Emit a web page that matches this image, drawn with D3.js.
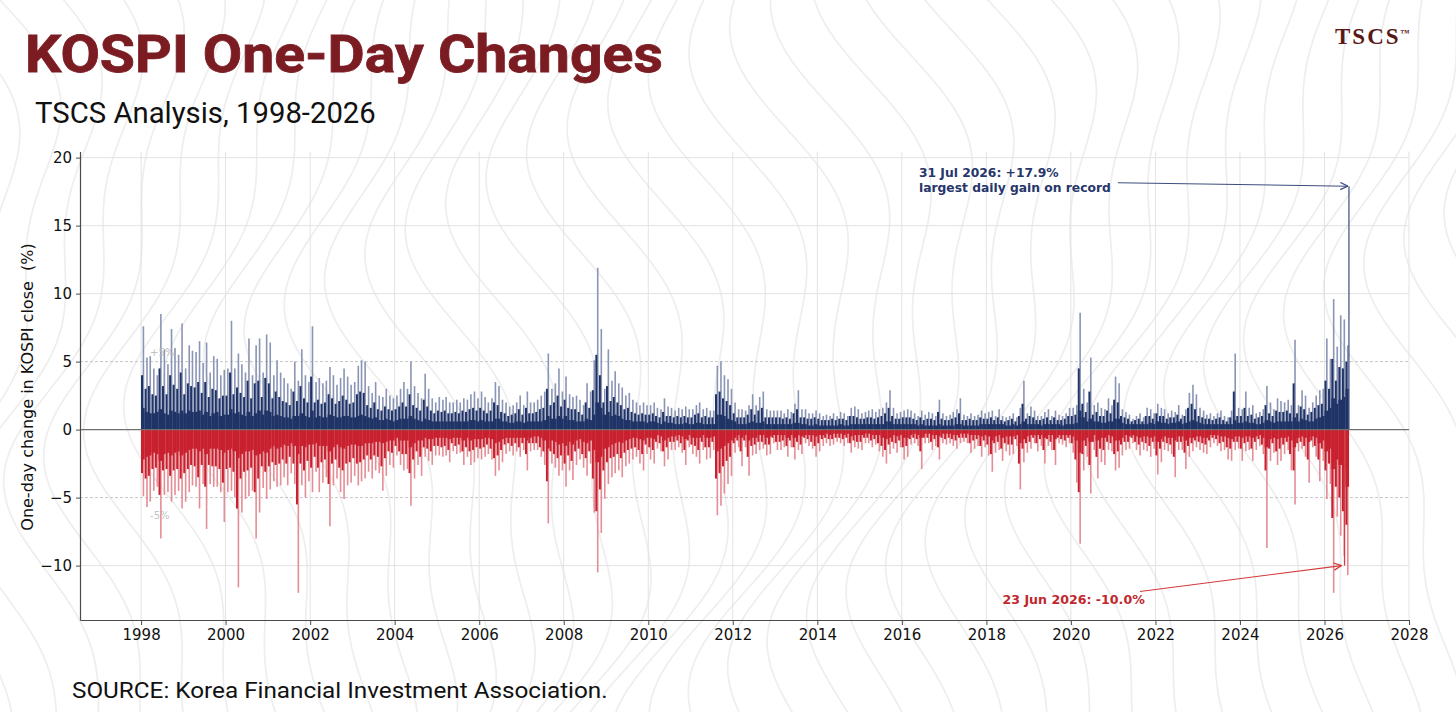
<!DOCTYPE html>
<html>
<head>
<meta charset="utf-8">
<script src="https://cdn.jsdelivr.net/npm/d3@7"></script>
<style>
  body { margin: 0; background: #fff; }
  svg { display: block; }
</style>
</head>
<body>
<div id="chart"></div>
<script>
// Monthly readings of the daily bars, Jan 1998 .. Jul 2026, one row per year (%)
// max  = tallest bar of the month, mid = typical tall bar, body = height of the dense mass
const startYear = 1998;
const upMax = [
  7.6, 5.3, 5.4, 4.5, 4.0, 8.5, 5.9, 4.8, 7.4, 6.0, 5.5, 7.8,
  4.5, 6.2, 5.8, 5.7, 6.5, 4.9, 6.4, 4.2, 5.4, 5.2, 4.0, 4.4,
  4.5, 8.0, 4.5, 5.6, 4.8, 4.2, 6.7, 4.0, 6.2, 6.7, 4.2, 7.0,
  6.4, 4.0, 5.1, 4.2, 3.8, 3.4, 3.0, 5.0, 3.6, 5.9, 4.0, 3.5,
  7.6, 3.5, 3.8, 3.4, 3.6, 4.6, 4.0, 3.3, 3.8, 4.5, 3.9, 3.3,
  3.5, 4.7, 5.1, 5.0, 3.2, 2.7, 3.5, 2.5, 2.4, 3.0, 2.5, 2.3,
  2.5, 3.0, 3.5, 3.0, 5.0, 3.2, 2.7, 2.3, 4.1, 3.0, 2.3, 2.0,
  2.4, 2.2, 2.4, 2.0, 2.0, 2.2, 2.0, 2.3, 2.2, 2.6, 2.8, 2.3,
  2.8, 2.4, 2.0, 2.3, 3.5, 3.2, 2.2, 2.0, 1.7, 1.8, 2.0, 2.5,
  1.8, 2.8, 2.0, 2.0, 2.2, 2.5, 2.8, 5.6, 3.0, 3.4, 4.5, 2.8,
  3.9, 2.6, 2.4, 2.5, 2.2, 1.8, 3.4, 2.8, 5.1, 11.9, 7.4, 3.0,
  5.9, 3.6, 4.3, 3.4, 3.1, 2.5, 2.7, 2.2, 2.0, 1.8, 2.0, 1.8,
  1.8, 2.0, 1.6, 1.5, 2.3, 1.7, 1.6, 1.4, 1.6, 1.5, 1.7, 1.5,
  1.5, 1.8, 2.0, 1.5, 1.6, 1.4, 1.4, 4.7, 5.0, 4.0, 3.7, 3.0,
  2.0, 1.5, 1.5, 1.4, 1.8, 2.6, 1.8, 2.4, 2.8, 1.5, 1.4, 1.4,
  1.4, 1.4, 1.2, 1.5, 1.3, 1.9, 2.9, 1.5, 1.5, 1.2, 1.2, 1.4,
  1.2, 1.0, 1.1, 1.0, 1.2, 1.0, 1.3, 1.2, 1.0, 1.6, 1.7, 1.5,
  1.2, 1.3, 1.4, 1.5, 1.3, 1.5, 1.6, 2.0, 2.9, 1.6, 1.2, 1.3,
  1.4, 1.5, 1.4, 1.2, 1.0, 1.4, 1.1, 1.3, 1.2, 1.0, 2.2, 1.2,
  1.0, 1.1, 1.3, 1.5, 2.3, 1.1, 1.0, 1.2, 1.0, 1.1, 1.4, 1.2,
  1.3, 1.4, 1.0, 1.5, 1.0, 0.9, 1.0, 1.2, 0.9, 1.6, 3.6, 1.2,
  1.7, 1.4, 1.0, 1.0, 1.3, 1.5, 1.0, 1.4, 1.1, 1.0, 1.2, 1.6,
  1.6, 1.8, 8.6, 3.0, 2.0, 5.3, 1.8, 2.0, 1.6, 1.5, 2.3, 1.8,
  3.9, 3.4, 1.5, 1.3, 1.1, 0.8, 1.0, 1.2, 0.9, 1.6, 1.5, 1.2,
  1.9, 1.6, 1.5, 1.2, 1.4, 1.3, 1.8, 1.1, 1.5, 2.7, 3.3, 2.6,
  1.6, 1.4, 1.1, 1.2, 1.0, 1.2, 1.4, 1.0, 0.9, 1.4, 5.6, 1.6,
  1.5, 2.8, 1.6, 1.8, 1.2, 1.3, 1.5, 3.2, 2.0, 1.5, 2.3, 2.1,
  2.0, 2.2, 1.8, 6.6, 1.8, 2.9, 2.5, 1.6, 2.0, 2.5, 2.9, 3.0,
  6.7, 5.2, 9.6, 6.1, 8.4, 8.1, 6.2
];
const upMid = [
  4.0, 3.0, 3.2, 2.6, 2.5, 4.5, 3.2, 2.6, 4.0, 3.3, 3.0, 4.2,
  2.6, 3.4, 3.2, 3.1, 3.5, 2.7, 3.5, 2.4, 3.0, 2.9, 2.3, 2.5,
  2.5, 4.2, 2.6, 3.1, 2.7, 2.4, 3.6, 2.3, 3.4, 3.6, 2.4, 3.8,
  3.4, 2.3, 2.8, 2.4, 2.1, 2.0, 1.8, 2.8, 2.1, 3.2, 2.3, 2.0,
  3.9, 2.0, 2.2, 1.9, 2.0, 2.6, 2.3, 1.9, 2.1, 2.5, 2.2, 1.9,
  2.0, 2.6, 2.8, 2.7, 1.8, 1.6, 2.0, 1.5, 1.4, 1.7, 1.5, 1.4,
  1.5, 1.7, 2.0, 1.7, 2.6, 1.8, 1.6, 1.4, 2.2, 1.7, 1.4, 1.2,
  1.4, 1.3, 1.4, 1.2, 1.2, 1.3, 1.2, 1.4, 1.3, 1.5, 1.6, 1.4,
  1.6, 1.4, 1.2, 1.4, 2.0, 1.8, 1.3, 1.2, 1.0, 1.1, 1.2, 1.5,
  1.1, 1.6, 1.2, 1.2, 1.3, 1.5, 1.6, 3.0, 1.8, 2.0, 2.5, 1.7,
  2.2, 1.6, 1.5, 1.5, 1.3, 1.1, 2.0, 1.6, 2.9, 5.5, 4.0, 2.0,
  3.2, 2.1, 2.4, 2.0, 1.8, 1.5, 1.6, 1.3, 1.2, 1.1, 1.2, 1.1,
  1.1, 1.2, 1.0, 0.9, 1.3, 1.0, 1.0, 0.9, 1.0, 0.9, 1.0, 0.9,
  0.9, 1.1, 1.2, 0.9, 1.0, 0.9, 0.9, 2.6, 2.8, 2.3, 2.1, 1.8,
  1.2, 0.9, 0.9, 0.9, 1.1, 1.5, 1.1, 1.4, 1.6, 0.9, 0.9, 0.9,
  0.9, 0.9, 0.8, 0.9, 0.8, 1.2, 1.5, 0.9, 0.9, 0.8, 0.8, 0.9,
  0.8, 0.7, 0.7, 0.7, 0.8, 0.7, 0.8, 0.8, 0.7, 1.0, 1.0, 0.9,
  0.8, 0.8, 0.9, 0.9, 0.8, 0.9, 1.0, 1.2, 1.6, 1.0, 0.8, 0.8,
  0.9, 0.9, 0.9, 0.8, 0.7, 0.9, 0.7, 0.8, 0.8, 0.7, 1.3, 0.8,
  0.7, 0.7, 0.8, 0.9, 1.2, 0.7, 0.7, 0.8, 0.7, 0.7, 0.9, 0.8,
  0.8, 0.9, 0.7, 0.9, 0.7, 0.6, 0.7, 0.8, 0.6, 1.0, 1.9, 0.8,
  1.0, 0.9, 0.7, 0.7, 0.8, 0.9, 0.7, 0.9, 0.7, 0.7, 0.8, 1.0,
  1.0, 1.1, 4.5, 1.9, 1.3, 2.8, 1.1, 1.3, 1.0, 1.0, 1.4, 1.2,
  2.2, 2.0, 1.0, 0.9, 0.8, 0.6, 0.7, 0.8, 0.6, 1.0, 1.0, 0.8,
  1.2, 1.0, 1.0, 0.8, 0.9, 0.9, 1.1, 0.8, 1.0, 1.6, 1.9, 1.5,
  1.0, 0.9, 0.8, 0.8, 0.7, 0.8, 0.9, 0.7, 0.6, 0.9, 2.8, 1.0,
  1.0, 1.6, 1.0, 1.1, 0.8, 0.9, 1.0, 1.8, 1.2, 1.0, 1.4, 1.3,
  1.3, 1.4, 1.2, 3.4, 1.2, 1.7, 1.5, 1.1, 1.3, 1.6, 1.8, 1.9,
  3.6, 3.0, 5.2, 3.6, 4.6, 4.5, 5.0
];
const upBody = [
  1.6, 1.3, 1.2, 1.2, 1.3, 1.5, 1.2, 1.1, 1.4, 1.3, 1.2, 1.4,
  1.2, 1.4, 1.3, 1.3, 1.4, 1.1, 1.3, 1.0, 1.2, 1.3, 1.0, 1.1,
  1.1, 1.5, 1.2, 1.3, 1.1, 1.0, 1.3, 1.0, 1.2, 1.4, 1.1, 1.4,
  1.3, 1.0, 1.1, 1.0, 0.9, 0.9, 0.8, 1.0, 1.0, 1.2, 1.0, 0.9,
  1.4, 0.9, 1.0, 0.9, 0.9, 1.1, 1.0, 0.9, 0.9, 1.0, 1.0, 0.9,
  0.9, 1.0, 1.1, 1.0, 0.9, 0.8, 0.9, 0.7, 0.7, 0.8, 0.7, 0.6,
  0.7, 0.8, 0.8, 0.8, 1.0, 0.8, 0.7, 0.6, 0.8, 0.7, 0.6, 0.6,
  0.6, 0.6, 0.6, 0.6, 0.6, 0.6, 0.6, 0.6, 0.6, 0.7, 0.7, 0.6,
  0.7, 0.6, 0.6, 0.6, 0.8, 0.8, 0.6, 0.6, 0.5, 0.5, 0.6, 0.6,
  0.5, 0.6, 0.6, 0.6, 0.6, 0.6, 0.7, 1.0, 0.8, 0.8, 1.0, 0.8,
  1.0, 0.7, 0.7, 0.6, 0.6, 0.6, 0.8, 0.7, 1.1, 2.0, 1.6, 1.1,
  1.3, 1.0, 1.1, 1.0, 0.8, 0.7, 0.7, 0.6, 0.6, 0.6, 0.6, 0.5,
  0.6, 0.6, 0.5, 0.4, 0.6, 0.5, 0.5, 0.4, 0.4, 0.4, 0.5, 0.4,
  0.4, 0.5, 0.5, 0.4, 0.4, 0.4, 0.4, 1.1, 1.1, 1.0, 0.8, 0.7,
  0.6, 0.4, 0.4, 0.4, 0.5, 0.6, 0.5, 0.5, 0.6, 0.4, 0.4, 0.4,
  0.4, 0.4, 0.4, 0.4, 0.4, 0.5, 0.5, 0.4, 0.4, 0.3, 0.3, 0.4,
  0.3, 0.3, 0.3, 0.3, 0.3, 0.3, 0.4, 0.3, 0.3, 0.4, 0.4, 0.4,
  0.4, 0.4, 0.4, 0.4, 0.4, 0.4, 0.4, 0.6, 0.6, 0.4, 0.4, 0.4,
  0.4, 0.4, 0.4, 0.4, 0.3, 0.4, 0.3, 0.3, 0.3, 0.3, 0.4, 0.3,
  0.3, 0.3, 0.3, 0.4, 0.4, 0.3, 0.3, 0.3, 0.3, 0.3, 0.4, 0.4,
  0.4, 0.4, 0.4, 0.4, 0.4, 0.3, 0.3, 0.4, 0.3, 0.4, 0.6, 0.4,
  0.4, 0.4, 0.4, 0.3, 0.4, 0.4, 0.4, 0.4, 0.4, 0.3, 0.4, 0.4,
  0.4, 0.5, 1.4, 0.9, 0.6, 0.8, 0.6, 0.6, 0.5, 0.5, 0.6, 0.6,
  0.8, 0.8, 0.5, 0.4, 0.4, 0.4, 0.4, 0.4, 0.4, 0.4, 0.5, 0.4,
  0.6, 0.5, 0.5, 0.4, 0.5, 0.5, 0.6, 0.4, 0.5, 0.6, 0.7, 0.6,
  0.5, 0.4, 0.4, 0.4, 0.4, 0.4, 0.4, 0.4, 0.4, 0.4, 0.7, 0.5,
  0.5, 0.6, 0.5, 0.5, 0.4, 0.4, 0.5, 0.7, 0.6, 0.5, 0.6, 0.6,
  0.6, 0.6, 0.6, 0.9, 0.6, 0.8, 0.7, 0.6, 0.6, 0.8, 0.9, 1.0,
  1.4, 1.6, 2.3, 1.9, 2.2, 2.4, 3.0
];
const downMax = [
  -4.9, -5.7, -5.3, -4.5, -4.2, -8.0, -4.8, -4.6, -5.3, -4.8, -4.5, -5.8,
  -5.3, -4.6, -4.1, -4.2, -5.8, -4.0, -7.3, -4.0, -4.2, -4.2, -4.6, -6.8,
  -4.6, -4.5, -5.0, -11.6, -6.1, -5.1, -4.9, -4.5, -8.0, -6.1, -4.3, -5.1,
  -4.4, -3.8, -4.2, -4.1, -3.5, -4.1, -3.2, -4.0, -12.0, -4.1, -5.0, -3.8,
  -4.6, -3.1, -4.6, -3.9, -3.5, -7.1, -4.1, -3.6, -4.6, -5.1, -4.1, -3.9,
  -3.4, -4.1, -3.8, -3.6, -3.1, -3.6, -3.0, -3.2, -4.5, -3.4, -2.6, -2.8,
  -1.9, -2.6, -3.0, -2.9, -5.6, -3.6, -2.6, -3.4, -2.0, -2.3, -2.6, -1.9,
  -1.9, -2.0, -1.9, -2.4, -1.6, -1.8, -1.7, -2.6, -2.0, -2.6, -2.4, -2.1,
  -2.2, -2.0, -1.8, -2.2, -3.4, -3.0, -2.4, -1.8, -1.6, -1.9, -1.6, -2.0,
  -1.5, -3.0, -1.6, -1.5, -1.5, -2.0, -2.6, -6.9, -2.5, -2.8, -3.4, -3.0,
  -4.2, -3.0, -3.7, -2.6, -2.2, -2.8, -3.4, -2.5, -6.1, -10.5, -7.6, -5.1,
  -4.0, -3.5, -3.2, -3.0, -3.5, -2.7, -2.5, -2.2, -2.0, -2.5, -3.0, -1.8,
  -2.2, -2.5, -1.4, -1.6, -2.7, -2.2, -1.5, -1.5, -1.3, -1.7, -2.6, -1.3,
  -1.8, -2.0, -2.5, -1.5, -2.2, -2.1, -1.5, -6.3, -5.6, -4.7, -4.0, -3.4,
  -1.7, -1.3, -2.7, -1.3, -3.4, -1.9, -1.8, -1.5, -1.4, -1.9, -1.8, -1.0,
  -1.5, -1.5, -1.3, -2.0, -1.3, -2.2, -1.5, -1.8, -1.0, -1.2, -1.4, -2.0,
  -1.6, -1.2, -1.0, -1.2, -1.1, -0.9, -1.0, -1.2, -1.0, -1.7, -1.3, -1.4,
  -1.5, -1.0, -1.0, -1.3, -1.1, -1.6, -2.0, -2.5, -1.8, -1.4, -1.7, -1.3,
  -2.2, -2.0, -1.1, -1.0, -1.2, -2.9, -1.0, -1.0, -1.5, -1.2, -2.2, -1.0,
  -1.1, -1.0, -1.2, -1.4, -1.0, -0.9, -1.0, -1.7, -1.4, -1.2, -2.0, -1.3,
  -1.9, -3.1, -1.7, -1.5, -2.3, -1.6, -1.9, -1.8, -1.2, -4.4, -2.4, -1.7,
  -1.4, -1.0, -1.6, -1.2, -2.5, -1.2, -1.5, -2.6, -1.0, -1.1, -1.3, -1.0,
  -1.7, -3.9, -8.4, -3.0, -2.0, -4.7, -1.5, -3.6, -2.4, -2.6, -1.5, -1.6,
  -3.0, -2.8, -1.9, -1.5, -1.4, -1.0, -1.5, -1.9, -1.5, -1.6, -2.0, -1.4,
  -3.3, -2.4, -1.5, -1.6, -1.8, -3.5, -1.5, -1.5, -2.9, -2.0, -1.6, -1.3,
  -1.5, -1.7, -1.8, -1.3, -1.0, -1.2, -1.6, -1.5, -2.2, -2.3, -1.5, -1.4,
  -2.3, -1.6, -1.5, -2.3, -1.5, -1.2, -1.8, -8.7, -2.3, -1.7, -2.6, -2.3,
  -1.8, -1.5, -3.0, -5.5, -1.6, -1.4, -2.0, -3.9, -1.3, -2.0, -3.8, -2.3,
  -5.1, -4.0, -12.0, -6.4, -7.8, -9.3, -10.7
];
const downMid = [
  -3.2, -3.6, -3.4, -2.9, -2.8, -4.8, -3.0, -2.9, -3.4, -3.0, -2.9, -3.6,
  -3.2, -2.9, -2.6, -2.7, -3.5, -2.6, -4.2, -2.6, -2.7, -2.7, -2.9, -3.9,
  -2.9, -2.8, -3.1, -5.8, -3.6, -3.1, -3.0, -2.8, -4.6, -3.6, -2.7, -3.1,
  -2.7, -2.4, -2.6, -2.5, -2.2, -2.5, -2.0, -2.5, -5.5, -2.5, -3.0, -2.3,
  -2.8, -2.0, -2.8, -2.4, -2.2, -4.0, -2.5, -2.2, -2.8, -3.0, -2.5, -2.4,
  -2.1, -2.5, -2.4, -2.2, -1.9, -2.2, -1.9, -2.0, -2.7, -2.1, -1.6, -1.7,
  -1.2, -1.6, -1.8, -1.8, -3.2, -2.2, -1.6, -2.0, -1.3, -1.4, -1.6, -1.2,
  -1.2, -1.3, -1.2, -1.5, -1.0, -1.2, -1.1, -1.6, -1.3, -1.6, -1.5, -1.3,
  -1.4, -1.3, -1.1, -1.4, -2.1, -1.9, -1.5, -1.1, -1.0, -1.2, -1.0, -1.3,
  -1.0, -1.8, -1.0, -1.0, -1.0, -1.3, -1.6, -3.8, -1.6, -1.8, -2.1, -1.9,
  -2.5, -1.9, -2.3, -1.6, -1.4, -1.8, -2.1, -1.6, -3.6, -6.0, -4.4, -3.0,
  -2.4, -2.1, -2.0, -1.8, -2.1, -1.7, -1.5, -1.4, -1.3, -1.5, -1.8, -1.1,
  -1.3, -1.5, -0.9, -1.0, -1.6, -1.3, -0.9, -0.9, -0.8, -1.0, -1.5, -0.8,
  -1.1, -1.2, -1.5, -0.9, -1.3, -1.3, -0.9, -3.6, -3.2, -2.7, -2.3, -2.0,
  -1.0, -0.8, -1.6, -0.8, -2.0, -1.2, -1.1, -0.9, -0.9, -1.1, -1.1, -0.6,
  -0.9, -0.9, -0.8, -1.2, -0.8, -1.3, -0.9, -1.1, -0.6, -0.7, -0.9, -1.2,
  -1.0, -0.7, -0.6, -0.7, -0.7, -0.6, -0.6, -0.7, -0.6, -1.0, -0.8, -0.9,
  -0.9, -0.6, -0.6, -0.8, -0.7, -1.0, -1.2, -1.5, -1.1, -0.9, -1.0, -0.8,
  -1.3, -1.2, -0.7, -0.6, -0.7, -1.6, -0.6, -0.6, -0.9, -0.7, -1.3, -0.6,
  -0.7, -0.6, -0.7, -0.8, -0.6, -0.6, -0.6, -1.0, -0.8, -0.7, -1.2, -0.8,
  -1.1, -1.8, -1.0, -0.9, -1.4, -1.0, -1.1, -1.1, -0.7, -2.5, -1.4, -1.0,
  -0.9, -0.6, -1.0, -0.7, -1.5, -0.7, -0.9, -1.5, -0.6, -0.7, -0.8, -0.6,
  -1.0, -2.2, -4.6, -1.8, -1.2, -2.6, -0.9, -2.0, -1.4, -1.5, -0.9, -1.0,
  -1.8, -1.6, -1.1, -0.9, -0.9, -0.6, -0.9, -1.1, -0.9, -1.0, -1.2, -0.9,
  -1.9, -1.4, -0.9, -1.0, -1.1, -2.0, -0.9, -0.9, -1.7, -1.2, -1.0, -0.8,
  -0.9, -1.0, -1.1, -0.8, -0.6, -0.7, -1.0, -0.9, -1.3, -1.4, -0.9, -0.9,
  -1.4, -1.0, -0.9, -1.4, -0.9, -0.7, -1.1, -3.0, -1.4, -1.0, -1.6, -1.4,
  -1.1, -0.9, -1.8, -3.0, -1.0, -0.9, -1.2, -2.2, -0.8, -1.2, -2.2, -1.4,
  -3.0, -2.5, -6.5, -4.2, -5.0, -6.0, -7.0
];
const downBody = [
  -2.2, -2.0, -1.9, -1.7, -1.8, -2.3, -1.8, -1.7, -1.9, -1.7, -1.6, -1.9,
  -1.7, -1.5, -1.4, -1.4, -1.6, -1.4, -1.8, -1.4, -1.4, -1.4, -1.5, -1.7,
  -1.5, -1.4, -1.6, -2.1, -1.8, -1.6, -1.6, -1.5, -1.9, -1.8, -1.6, -1.7,
  -1.4, -1.2, -1.4, -1.3, -1.1, -1.2, -1.0, -1.2, -1.8, -1.2, -1.3, -1.1,
  -1.1, -1.0, -1.2, -1.2, -1.2, -1.6, -1.3, -1.1, -1.3, -1.4, -1.2, -1.1,
  -1.1, -1.2, -1.2, -1.0, -1.0, -1.0, -0.9, -0.9, -1.0, -0.9, -0.8, -0.8,
  -0.6, -0.8, -0.8, -0.8, -1.3, -1.0, -0.8, -0.8, -0.6, -0.7, -0.7, -0.6,
  -0.6, -0.6, -0.6, -0.7, -0.6, -0.6, -0.6, -0.8, -0.6, -0.8, -0.7, -0.7,
  -0.7, -0.6, -0.6, -0.7, -1.0, -0.9, -0.7, -0.6, -0.6, -0.6, -0.6, -0.6,
  -0.6, -0.8, -0.6, -0.5, -0.5, -0.6, -0.8, -1.4, -0.8, -0.9, -1.1, -1.0,
  -1.2, -0.9, -1.1, -0.8, -0.7, -0.9, -1.0, -0.8, -1.5, -2.4, -2.0, -1.4,
  -1.3, -1.1, -1.0, -0.9, -1.0, -0.8, -0.7, -0.6, -0.6, -0.7, -0.8, -0.6,
  -0.6, -0.7, -0.4, -0.5, -0.8, -0.6, -0.5, -0.5, -0.4, -0.5, -0.7, -0.4,
  -0.6, -0.6, -0.6, -0.4, -0.6, -0.6, -0.5, -1.6, -1.4, -1.2, -1.0, -0.8,
  -0.6, -0.4, -0.6, -0.4, -0.8, -0.6, -0.6, -0.4, -0.4, -0.6, -0.5, -0.4,
  -0.4, -0.4, -0.4, -0.6, -0.4, -0.6, -0.4, -0.5, -0.4, -0.4, -0.4, -0.5,
  -0.4, -0.4, -0.3, -0.4, -0.3, -0.3, -0.3, -0.4, -0.3, -0.5, -0.4, -0.4,
  -0.4, -0.3, -0.3, -0.4, -0.4, -0.4, -0.6, -0.7, -0.6, -0.4, -0.5, -0.4,
  -0.6, -0.6, -0.4, -0.3, -0.4, -0.6, -0.3, -0.3, -0.4, -0.4, -0.5, -0.3,
  -0.3, -0.3, -0.4, -0.4, -0.3, -0.3, -0.3, -0.4, -0.4, -0.4, -0.5, -0.4,
  -0.5, -0.8, -0.5, -0.4, -0.6, -0.5, -0.5, -0.5, -0.4, -1.0, -0.7, -0.5,
  -0.4, -0.4, -0.4, -0.4, -0.6, -0.4, -0.4, -0.7, -0.4, -0.4, -0.4, -0.4,
  -0.5, -0.8, -1.7, -0.8, -0.6, -0.9, -0.4, -0.8, -0.6, -0.6, -0.4, -0.5,
  -0.8, -0.8, -0.6, -0.4, -0.5, -0.4, -0.5, -0.6, -0.5, -0.5, -0.6, -0.5,
  -0.9, -0.7, -0.5, -0.6, -0.6, -0.8, -0.5, -0.5, -0.8, -0.6, -0.6, -0.5,
  -0.5, -0.6, -0.6, -0.4, -0.4, -0.4, -0.5, -0.5, -0.6, -0.7, -0.5, -0.5,
  -0.6, -0.5, -0.5, -0.6, -0.5, -0.4, -0.6, -1.3, -0.7, -0.6, -0.7, -0.6,
  -0.6, -0.5, -0.8, -1.3, -0.6, -0.5, -0.6, -0.9, -0.5, -0.6, -1.0, -0.8,
  -1.6, -1.4, -2.9, -2.2, -2.6, -3.0, -4.2
];

// Annotated sessions
const recordDates = ["2026-07-31", "2026-06-23"];
const recordValues = [17.9, -10.0];
const recordLines = [["31 Jul 2026: +17.9%", "largest daily gain on record"], ["23 Jun 2026: -10.0%"]];

const xTickYears = [1998, 2000, 2002, 2004, 2006, 2008, 2010, 2012, 2014, 2016, 2018, 2020, 2022, 2024, 2026, 2028];
const yTickValues = [-10, -5, 0, 5, 10, 15, 20];

// ---------------------------------------------------------------------------
const W = 1456, H = 712;
const plot = {left: 80, right: 1409, top: 151.5, bottom: 620};
const navy = "#1f3366", navyLight = "#8a94b4";
const red = "#c8202e", redLight = "#e58d94";
const parseDay = d3.timeParse("%Y-%m-%d");

const svg = d3.select("#chart").append("svg")
    .attr("width", W)
    .attr("height", H)
    .style("background", "#fff");

// faint topographic background
const bg = svg.append("g").attr("class", "contours");
const wave = d3.line().curve(d3.curveBasis);
for (let i = 0; i < 44; i++) {
    const base = -160 + i * 40;
    const pts = d3.range(-40, 760, 16).map(yy => [
        base + 55 * Math.sin((yy + base * 0.7) / 115) + 22 * Math.sin(yy / 48 + base / 80),
        yy
    ]);
    bg.append("path")
        .attr("d", wave(pts))
        .attr("fill", "none")
        .attr("stroke", "#eeeeee")
        .attr("stroke-width", 1.7);
}

const x = d3.scaleTime()
    .domain([new Date(1996, 6, 22), new Date(2028, 0, 1)])
    .range([plot.left, plot.right]);

const y = d3.scaleLinear()
    .domain([-14, 20.45])
    .range([plot.bottom, plot.top]);

// grid
const grid = svg.append("g").attr("class", "grid");
grid.selectAll(".vgrid")
    .data(xTickYears)
    .enter().append("line")
    .attr("x1", d => x(new Date(d, 0, 1)))
    .attr("x2", d => x(new Date(d, 0, 1)))
    .attr("y1", plot.top)
    .attr("y2", plot.bottom)
    .attr("stroke", "#e3e3e3")
    .attr("stroke-width", 1);
grid.selectAll(".hgrid")
    .data(yTickValues.filter(v => v !== 0 && Math.abs(v) !== 5))
    .enter().append("line")
    .attr("x1", plot.left)
    .attr("x2", plot.right)
    .attr("y1", d => y(d))
    .attr("y2", d => y(d))
    .attr("stroke", "#e3e3e3")
    .attr("stroke-width", 1);

// +/-5% reference lines
grid.selectAll(".ref")
    .data([5, -5])
    .enter().append("line")
    .attr("x1", plot.left)
    .attr("x2", plot.right)
    .attr("y1", d => y(d))
    .attr("y2", d => y(d))
    .attr("stroke", "#c6c6c6")
    .attr("stroke-width", 1)
    .attr("stroke-dasharray", "3,2");

// bars
const bars = svg.append("g").attr("class", "bars");
const months = upMax.map((v, i) => ({
    start: new Date(startYear, i, 1),
    end: new Date(startYear, i + 1, 1),
    upMax: v, upMid: upMid[i], upBody: upBody[i],
    downMax: downMax[i], downMid: downMid[i], downBody: downBody[i]
}));

function drawSide(side, dark, light) {
    bars.selectAll(".max-" + side)
        .data(months)
        .enter().append("line")
        .attr("x1", d => x(d3.timeDay.offset(d.start, 20)))
        .attr("x2", d => x(d3.timeDay.offset(d.start, 20)))
        .attr("y1", y(0))
        .attr("y2", d => y(d[side + "Max"]))
        .attr("stroke", light)
        .attr("stroke-width", 1.6);

    bars.selectAll(".mid-" + side)
        .data(months)
        .enter().append("line")
        .attr("x1", d => x(d3.timeDay.offset(d.start, 8)))
        .attr("x2", d => x(d3.timeDay.offset(d.start, 8)))
        .attr("y1", y(0))
        .attr("y2", d => y(d[side + "Mid"]))
        .attr("stroke", dark)
        .attr("stroke-width", 2.0);

    bars.selectAll(".body-" + side)
        .data(months)
        .enter().append("rect")
        .attr("x", d => x(d.start))
        .attr("width", d => x(d.end) - x(d.start))
        .attr("y", d => Math.min(y(d[side + "Body"]), y(0)))
        .attr("height", d => Math.abs(y(d[side + "Body"]) - y(0)))
        .attr("fill", dark);
}
drawSide("down", red, redLight);
drawSide("up", navy, navyLight);

bars.selectAll(".record")
    .data(recordDates)
    .enter().append("line")
    .attr("x1", d => x(parseDay(d)))
    .attr("x2", d => x(parseDay(d)))
    .attr("y1", y(0))
    .attr("y2", (d, i) => y(recordValues[i]))
    .attr("stroke", (d, i) => recordValues[i] > 0 ? "#4a5a88" : "#d0404a")
    .attr("stroke-width", 1.3);

// faint +/-5% labels over the first bars
svg.append("g").selectAll("text")
    .data([5, -5])
    .enter().append("text")
    .attr("x", x(new Date(1998, 2, 20)))
    .attr("y", d => y(d > 0 ? d + 0.4 : d - 1.6))
    .attr("font-family", "DejaVu Sans")
    .attr("font-size", 10)
    .attr("fill", "#b8b8b8")
    .attr("opacity", 0.85)
    .text(d => (d > 0 ? "+" : "-") + Math.abs(d) + "%");

// zero line
svg.append("line")
    .attr("x1", plot.left)
    .attr("x2", plot.right)
    .attr("y1", y(0))
    .attr("y2", y(0))
    .attr("stroke", "#707070")
    .attr("stroke-width", 1.3);

// axes
const xAxis = svg.append("g")
    .attr("transform", "translate(0," + plot.bottom + ")")
    .call(d3.axisBottom(x)
        .tickValues(xTickYears.map(d => new Date(d, 0, 1)))
        .tickFormat(d3.timeFormat("%Y"))
        .tickSize(5)
        .tickSizeOuter(0)
        .tickPadding(4));

const yAxis = svg.append("g")
    .attr("transform", "translate(" + plot.left + ",0)")
    .call(d3.axisLeft(y)
        .tickValues(yTickValues)
        .tickFormat(d => d < 0 ? "\u2212" + Math.abs(d) : d)
        .tickSize(4)
        .tickSizeOuter(0)
        .tickPadding(4));

[xAxis, yAxis].forEach(a => {
    a.select(".domain").attr("stroke", "#4a4a4a").attr("stroke-width", 1.2);
    a.selectAll(".tick line").attr("stroke", "#4a4a4a");
    a.selectAll(".tick text")
        .attr("font-family", "DejaVu Sans")
        .attr("font-size", 15)
        .attr("fill", "#111");
});

svg.append("text")
    .attr("transform", "translate(33," + 387 + ") rotate(-90)")
    .attr("text-anchor", "middle")
    .attr("font-family", "DejaVu Sans")
    .attr("font-size", 16)
    .attr("fill", "#111")
    .style("white-space", "pre")
    .text("One-day change in KOSPI close  (%)");

// annotations
const defs = svg.append("defs");
[["head-up", "#3d4d7d"], ["head-down", "#d23a3a"]].forEach(([id, c]) => {
    defs.append("marker")
        .attr("id", id)
        .attr("viewBox", "0 0 10 10")
        .attr("refX", 9.5)
        .attr("refY", 5)
        .attr("markerWidth", 9)
        .attr("markerHeight", 9)
        .attr("markerUnits", "userSpaceOnUse")
        .attr("orient", "auto")
        .append("path")
        .attr("d", "M1,1 L9.5,5 L1,9")
        .attr("fill", "none")
        .attr("stroke", c)
        .attr("stroke-width", 1.4);
});

const ann = svg.append("g").attr("class", "annotations");
ann.append("line")
    .attr("x1", x(new Date(2021, 1, 10)))
    .attr("y1", y(18.15))
    .attr("x2", x(parseDay(recordDates[0])) - 1)
    .attr("y2", y(recordValues[0]))
    .attr("stroke", "#3d4d7d")
    .attr("stroke-width", 1.1)
    .attr("marker-end", "url(#head-up)");
const topText = ann.append("text")
    .attr("x", x(new Date(2016, 4, 28)))
    .attr("y", y(18.6))
    .attr("font-family", "DejaVu Sans")
    .attr("font-weight", "bold")
    .attr("font-size", 12.3)
    .attr("fill", "#26366b");
recordLines[0].forEach((t, i) => {
    topText.append("tspan")
        .attr("x", x(new Date(2016, 4, 28)))
        .attr("dy", i === 0 ? 0 : 15)
        .text(t);
});

ann.append("line")
    .attr("x1", x(new Date(2021, 7, 20)))
    .attr("y1", y(-11.9))
    .attr("x2", x(parseDay(recordDates[1])) - 3)
    .attr("y2", y(recordValues[1]))
    .attr("stroke", "#d23a3a")
    .attr("stroke-width", 1.1)
    .attr("marker-end", "url(#head-down)");
ann.append("text")
    .attr("x", x(new Date(2018, 4, 20)))
    .attr("y", y(-12.85))
    .attr("font-family", "DejaVu Sans")
    .attr("font-weight", "bold")
    .attr("font-size", 12.6)
    .attr("fill", "#c0282e")
    .text(recordLines[1][0]);

// titles
function squeeze(sel, target) {
    const w = sel.node().getComputedTextLength();
    const x0 = +sel.attr("x"), y0 = +sel.attr("y");
    sel.attr("transform", "translate(" + x0 + "," + y0 + ") scale(" + (target / w) + ",1) translate(" + (-x0) + "," + (-y0) + ")");
}

const title = svg.append("text")
    .attr("x", 25)
    .attr("y", 72)
    .attr("font-family", "Roboto")
    .attr("font-weight", 700)
    .attr("font-size", 52)
    .attr("fill", "#7b1c22")
    .attr("stroke", "#7b1c22")
    .attr("stroke-width", 0.8)
    .text("KOSPI One-Day Changes");
squeeze(title, 638);

const subtitle = svg.append("text")
    .attr("x", 35)
    .attr("y", 123)
    .attr("font-family", "Roboto")
    .attr("font-size", 29)
    .attr("fill", "#111")
    .text("TSCS Analysis, 1998-2026");
squeeze(subtitle, 341);

const source = svg.append("text")
    .attr("x", 72)
    .attr("y", 698)
    .attr("font-family", "Roboto")
    .attr("font-size", 22)
    .attr("fill", "#111")
    .text("SOURCE: Korea Financial Investment Association.");
squeeze(source, 536);

const logo = svg.append("text")
    .attr("x", 1335)
    .attr("y", 44)
    .attr("font-family", "Liberation Serif")
    .attr("font-weight", "bold")
    .attr("font-size", 23)
    .attr("letter-spacing", 2)
    .attr("fill", "#5a1818");
logo.append("tspan").text("TSCS");
logo.append("tspan")
    .attr("font-size", 9)
    .attr("letter-spacing", 0)
    .attr("dy", -8)
    .text("\u2122");
</script>
</body>
</html>
